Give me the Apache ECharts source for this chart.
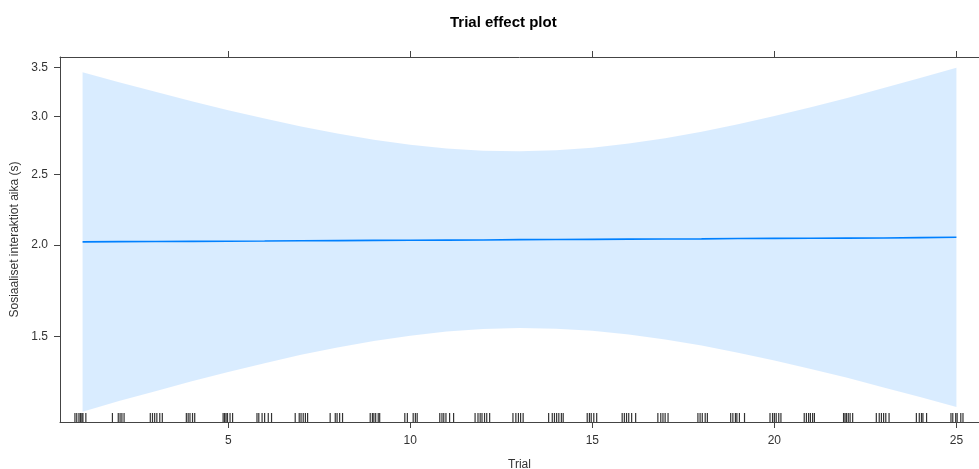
<!DOCTYPE html>
<html>
<head>
<meta charset="utf-8">
<script src="https://cdn.jsdelivr.net/npm/echarts@6/dist/echarts.min.js"></script>
<style>html,body{margin:0;padding:0;background:#fff}#c{width:979px;height:469px}</style>
</head>
<body>
<div id="c"></div>
<script>
// ---- data ----
var trials = [1,2,3,4,5,6,7,8,9,10,11,12,13,14,15,16,17,18,19,20,21,22,23,24,25];
var fitValues = [2.021,2.022,2.023,2.024,2.025,2.026,2.028,2.029,2.030,2.031,2.032,2.033,2.035,2.036,2.037,2.038,2.039,2.040,2.042,2.043,2.044,2.045,2.046,2.048,2.050];
var upperValues = [3.451,3.344,3.243,3.149,3.061,2.981,2.908,2.843,2.789,2.745,2.713,2.694,2.689,2.698,2.720,2.755,2.802,2.860,2.929,3.005,3.090,3.182,3.282,3.388,3.500];
var lowerValues = [1.183,1.223,1.262,1.302,1.341,1.378,1.415,1.448,1.478,1.503,1.523,1.535,1.540,1.537,1.527,1.509,1.485,1.457,1.425,1.390,1.353,1.316,1.277,1.239,1.200];
var rugTrials = [
  0.79,0.84,0.90,0.94,0.98,1.01,1.09,
  1.82,1.98,2.03,2.08,2.14,
  2.86,2.92,2.98,3.04,3.12,3.19,
  3.85,3.90,3.95,4.02,4.08,
  4.86,4.90,4.94,4.98,5.05,5.12,
  5.79,5.84,5.93,6.00,6.10,6.19,
  6.84,6.95,7.00,7.06,7.12,7.18,
  7.80,7.94,7.99,8.06,8.14,
  8.90,8.96,9.00,9.05,9.12,9.16,
  9.85,9.92,10.08,10.14,10.19,
  10.81,10.87,10.92,10.98,11.08,11.19,
  11.78,11.86,11.92,11.97,12.04,12.10,12.18,
  12.82,12.90,12.97,13.03,13.10,
  13.80,13.90,13.96,14.02,14.08,14.15,14.20,
  14.86,14.92,14.97,15.04,15.12,
  15.82,15.88,15.94,16.00,16.08,16.19,
  16.80,16.88,16.94,17.00,17.08,
  17.90,17.96,18.02,18.10,18.16,
  18.80,18.86,18.93,18.97,19.04,19.18,
  19.88,19.95,20.00,20.05,20.12,20.18,
  20.82,20.88,20.94,20.99,21.05,21.10,
  21.90,21.94,21.98,22.03,22.08,22.15,
  22.80,22.88,22.94,23.00,23.06,23.15,
  23.90,23.98,24.04,24.08,24.18,
  24.85,24.90,24.98,25.02,25.12,25.18
];
var xTicks = [5,10,15,20,25];
var yTicks = [1.5,2.0,2.5,3.0,3.5];
var xMin = 0.38, xMax = 25.62;
var yMinRaw = 1.145, yMaxRaw = 3.62;
var titleText = 'Trial effect plot';
var xName = 'Trial';
var yName = 'Sosiaaliset interaktiot aika (s)';

// ---- build (log-scale y via ln transform) ----
var ln = Math.log;
var upperLn = upperValues.map(ln);
var lowerLn = lowerValues.map(ln);
var fitData = trials.map(function(t,i){ return [t, ln(fitValues[i])]; });
var yMin = ln(yMinRaw), yMax = ln(yMaxRaw);
var rugData = rugTrials.map(function(t){ return [t, yMin]; });
var bandData = trials.map(function(t,i){ return [t, upperLn[i], lowerLn[i]]; });

var axisColor = '#444';
var labelColor = '#333';
var font = '"Liberation Sans", Arial, sans-serif';

var chart = echarts.init(document.getElementById('c'), null, {renderer:'canvas'});
chart.setOption({
  animation: false,
  backgroundColor: '#fff',
  title: {
    text: titleText, left: 450, top: 15, padding: 0,
    textStyle: {fontFamily: font, fontSize: 15, fontWeight: 'bold', color: '#000'}
  },
  grid: {left: 60, right: 0, top: 57, bottom: 47, containLabel: false, outerBoundsMode: 'none'},
  xAxis: [{
    type: 'value', position: 'bottom', min: xMin, max: xMax,
    name: xName, nameLocation: 'middle', nameGap: 37,
    nameTextStyle: {fontFamily: font, fontSize: 12, color: labelColor},
    axisLine: {show: true, onZero: false, lineStyle: {color: axisColor, width: 1}},
    axisTick: {show: true, length: 6, customValues: xTicks, lineStyle: {color: axisColor}},
    axisLabel: {show: true, customValues: xTicks, margin: 13, fontFamily: font, fontSize: 12, color: labelColor},
    splitLine: {show: false}
  }, {
    type: 'value', position: 'top', min: xMin, max: xMax,
    axisLine: {show: true, onZero: false, lineStyle: {color: axisColor, width: 1}},
    axisTick: {show: true, length: 6, customValues: xTicks, lineStyle: {color: axisColor}},
    axisLabel: {show: false},
    splitLine: {show: false}
  }],
  yAxis: {
    type: 'value', min: yMin, max: yMax,
    name: yName, nameLocation: 'middle', nameGap: 39, nameRotate: 90,
    nameTextStyle: {fontFamily: font, fontSize: 12, color: labelColor},
    axisLine: {show: true, onZero: false, lineStyle: {color: axisColor, width: 1}},
    axisTick: {show: true, length: 6, customValues: yTicks.map(ln), lineStyle: {color: axisColor}},
    axisLabel: {
      show: true, customValues: yTicks.map(ln), margin: 12,
      fontFamily: font, fontSize: 12, color: labelColor,
      formatter: function(v){ return Math.exp(v).toFixed(1); }
    },
    splitLine: {show: false}
  },
  series: [{
    type: 'custom', data: bandData, encode: {x: 0, y: [1, 2]}, silent: true, z: 1,
    renderItem: function(params, api){
      if (params.dataIndex !== 0) return null;
      var pts = [];
      for (var i = 0; i < bandData.length; i++) pts.push(api.coord([bandData[i][0], bandData[i][1]]));
      for (var j = bandData.length - 1; j >= 0; j--) pts.push(api.coord([bandData[j][0], bandData[j][2]]));
      return {type: 'polygon', shape: {points: pts}, style: {fill: 'rgba(0,128,255,0.15)'}};
    }
  }, {
    type: 'line', data: fitData, symbol: 'none',
    lineStyle: {color: '#0080ff', width: 1.6}, z: 3
  }, {
    type: 'scatter', data: rugData, symbol: 'rect', symbolSize: [1.2, 9],
    symbolOffset: [0, -4.5], clip: false,
    itemStyle: {color: '#000'}, z: 4
  }]
});
</script>
</body>
</html>
